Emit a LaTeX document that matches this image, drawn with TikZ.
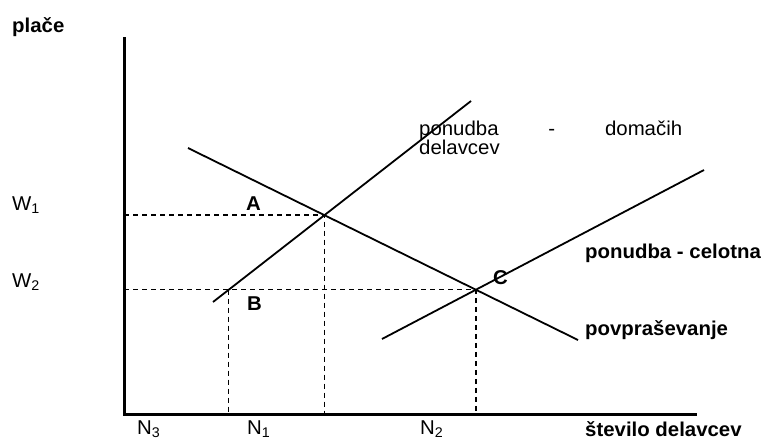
\documentclass[tikz,border=0pt]{standalone}
\usepackage{fontspec}
\setmainfont{Liberation Sans}[FakeStretch=1.02]
\usepackage{tikz}
\usetikzlibrary{intersections}

\begin{document}
\begin{tikzpicture}[x=1pt, y=-1pt,
    every node/.style={font=\fontsize{20}{19}\selectfont, inner sep=0pt},
    lbl/.style={anchor=base west},
    blbl/.style={anchor=base west, font=\fontsize{20}{19}\selectfont\bfseries},
    axis/.style={line width=3pt, line join=miter},
    curve/.style={line width=1.8pt},
    guide/.style={line width=1.4pt, dash pattern=on 5pt off 4pt},
]
\useasboundingbox (0,0) rectangle (768,439);

% axes
\coordinate (top) at (124,37);
\coordinate (O) at (124,414);
\coordinate (right) at (697,414);
\draw[axis] (top) -- (O) -- (right);

% supply and demand
\coordinate (dom1) at (213,302);
\coordinate (dom2) at (471,101);
\coordinate (dem1) at (188,148);
\coordinate (dem2) at (578,340);
\coordinate (tot1) at (382,339);
\coordinate (tot2) at (704,170);
\draw[curve, name path=dom] (dom1) -- (dom2);
\draw[curve, name path=dem] (dem1) -- (dem2);
\draw[curve, name path=tot] (tot1) -- (tot2);
\path[name intersections={of=dom and dem, by=E1}];
\path[name intersections={of=tot and dem, by=E2}];

% guide lines
\draw[guide] (E1 -| O) -- (E1) -- (E1 |- O);
\draw[guide, name path=wtwo] (E2 -| O) -- (E2) -- (E2 |- O);
\path[name intersections={of=dom and wtwo, by=Bpt}];
\draw[guide] (Bpt) -- (Bpt |- O);

% labels
\node[blbl] (place) at (12,32) {plače};
\node[lbl] (w1) at (12,210) {W\textsubscript{1}};
\node[lbl] (w2) at (12,287) {W\textsubscript{2}};
\node[lbl] (n3) at (137,434) {N\textsubscript{3}};
\node[lbl] (n1) at (247,434) {N\textsubscript{1}};
\node[lbl] (n2) at (420,434) {N\textsubscript{2}};
\node[blbl] (stevilo) at (585,436) {število delavcev};
\node[blbl] (a) at (246,210) {A};
\node[blbl] (b) at (247,310) {B};
\node[blbl] (c) at (493,284) {C};
\node[lbl, anchor=north west, align=left] (domaci) at (419,121)
    {\makebox[263pt][s]{ponudba\hfill-\hfill domačih}\\delavcev};
\node[blbl] (celotna) at (585,258) {ponudba - celotna};
\node[blbl] (povp) at (585,335) {povpraševanje};

\end{tikzpicture}
\end{document}
